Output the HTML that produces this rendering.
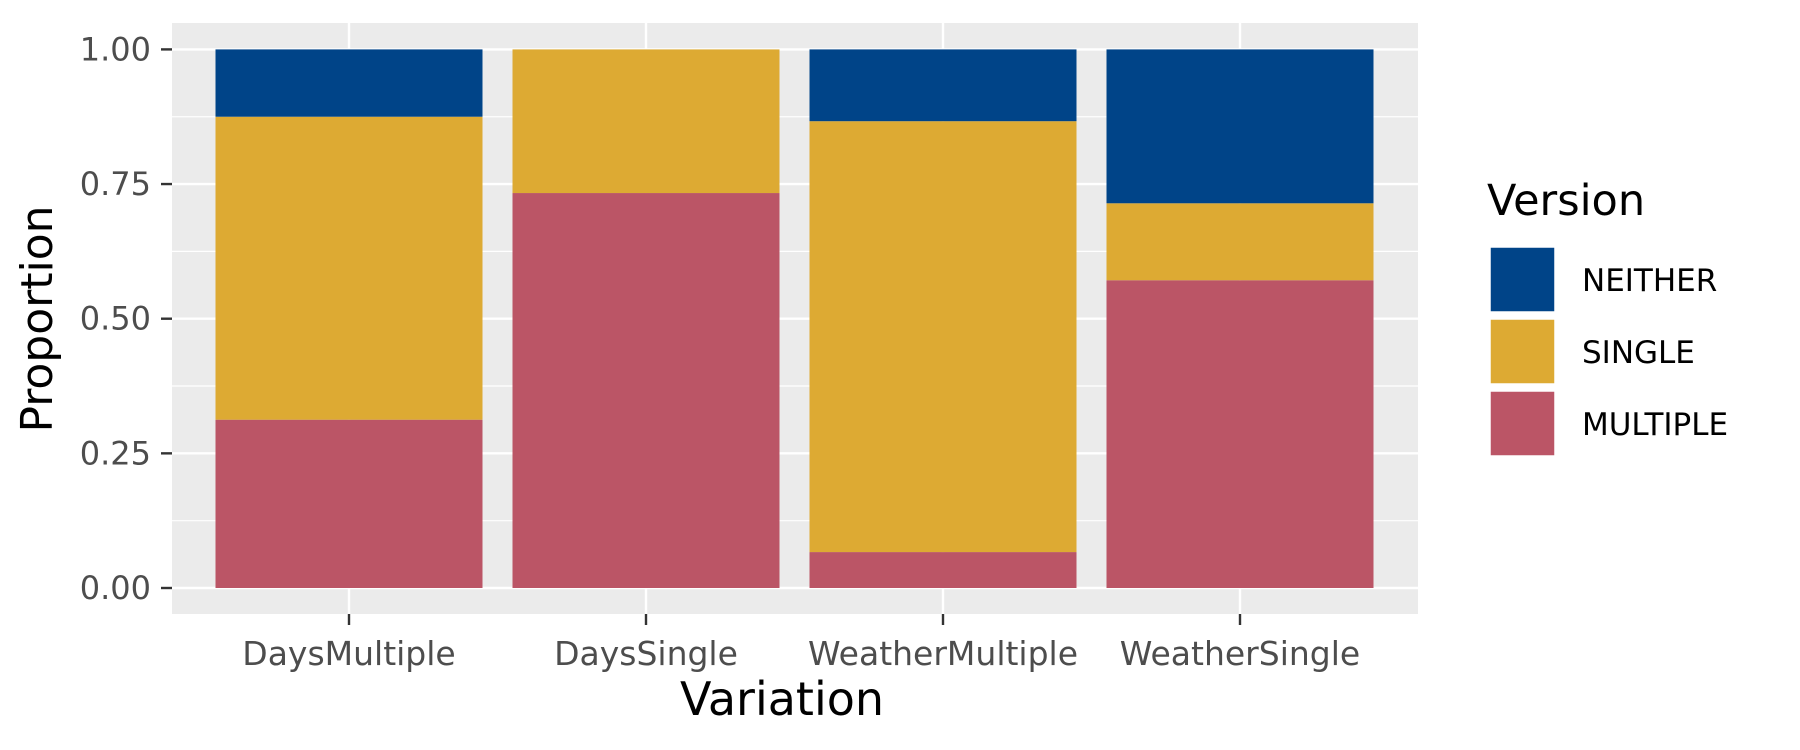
<!DOCTYPE html>
<html><head><meta charset="utf-8"><style>
body{margin:0;background:#fff;}
svg{display:block;font-family:"DejaVu Sans","Liberation Sans",sans-serif;}
</style></head><body>
<svg id="chart" width="1800" height="750" viewBox="0 0 1800 750">
<rect x="0" y="0" width="1800" height="750" fill="#fff"/>
<rect x="172" y="23" width="1246" height="591" fill="#ebebeb"/>
<g id="grid"></g><g id="bars"></g><g id="axes"></g>
<text x="782" y="715" font-size="46" text-anchor="middle" fill="#000">Variation</text>
<text transform="translate(52,319) rotate(-90)" font-size="44" text-anchor="middle" fill="#000">Proportion</text>
<g>
<text x="1487" y="215" font-size="43" fill="#000">Version</text>
<g id="legend-items"></g>
</g>
</svg>
<script>
const categories = ["DaysMultiple","DaysSingle","WeatherMultiple","WeatherSingle"];
const multiple = [0.3125, 0.7333, 0.0667, 0.5714];
const single = [0.5625, 0.2667, 0.8, 0.1429];
const neither = [0.125, 0, 0.1333, 0.2857];
const yTicks = [0, 0.25, 0.5, 0.75, 1.0];
const yTickLabels = ["0.00","0.25","0.50","0.75","1.00"];
const seriesNames = ["NEITHER","SINGLE","MULTIPLE"];
const colors = {NEITHER:"#004488", SINGLE:"#DDAA33", MULTIPLE:"#BB5566"};

const NS = "http://www.w3.org/2000/svg";
const px0 = 172, px1 = 1418, y0 = 588, y1 = 49.4;
function xc(i){ return 349 + i*297; }
function ys(v){ return y0 - v*(y0 - y1); }
const bw = 267;
function mk(tag, attrs, parent){ const e = document.createElementNS(NS, tag); for (const k in attrs) e.setAttribute(k, attrs[k]); parent.appendChild(e); return e; }

const grid = document.getElementById('grid');
for (let i = 0; i < yTicks.length - 1; i++) {
  const m = (yTicks[i] + yTicks[i+1]) / 2;
  const l = mk('line', {x1:px0, x2:px1, y1:ys(m), y2:ys(m), stroke:'#fff', 'stroke-width':1.2}, grid);
  
  
}
yTicks.forEach(t => {
  const l = mk('line', {x1:px0, x2:px1, y1:ys(t), y2:ys(t), stroke:'#fff', 'stroke-width':2.4}, grid);
  
  
});
categories.forEach((c, i) => {
  const l = mk('line', {x1:xc(i), x2:xc(i), y1:23, y2:614, stroke:'#fff', 'stroke-width':2.4}, grid);
  
  
});

const bars = document.getElementById('bars');
categories.forEach((c, i) => {
  const segs = [["MULTIPLE", multiple[i]], ["SINGLE", single[i]], ["NEITHER", neither[i]]];
  let base = 0;
  segs.forEach(([s, v]) => {
    if (v > 0) {
      const r = mk('rect', {x:xc(i)-bw/2, y:ys(base+v), width:bw, height:ys(base)-ys(base+v), fill:colors[s]}, bars);
      
      
    }
    base += v;
  });
});

const axes = document.getElementById('axes');
yTicks.forEach((t, i) => {
  const l = mk('line', {x1:161, x2:172, y1:ys(t), y2:ys(t), stroke:'#333', 'stroke-width':2.4}, axes);
  
  
  const tx = mk('text', {x:151, y:ys(t)+11, 'font-size':32, 'text-anchor':'end', fill:'#4d4d4d'}, axes);
  tx.textContent = yTickLabels[i];
  
  
});
categories.forEach((c, i) => {
  const l = mk('line', {x1:xc(i), x2:xc(i), y1:614, y2:625, stroke:'#333', 'stroke-width':2.4}, axes);
  
  
  const tx = mk('text', {x:xc(i), y:665, 'font-size':33, 'text-anchor':'middle', fill:'#4d4d4d'}, axes);
  tx.textContent = c;
  
  
});

const leg = document.getElementById('legend-items');
seriesNames.forEach((s, i) => {
  const y = 247 + i*72;
  const r = mk('rect', {x:1490, y:y, width:65, height:65, fill:colors[s], stroke:'#fff', 'stroke-width':1.5}, leg);
  
  
  const t = mk('text', {x:1582, y:y+44, 'font-size':31, fill:'#000'}, leg);
  t.textContent = s;
  
  
});
</script>
</body></html>
